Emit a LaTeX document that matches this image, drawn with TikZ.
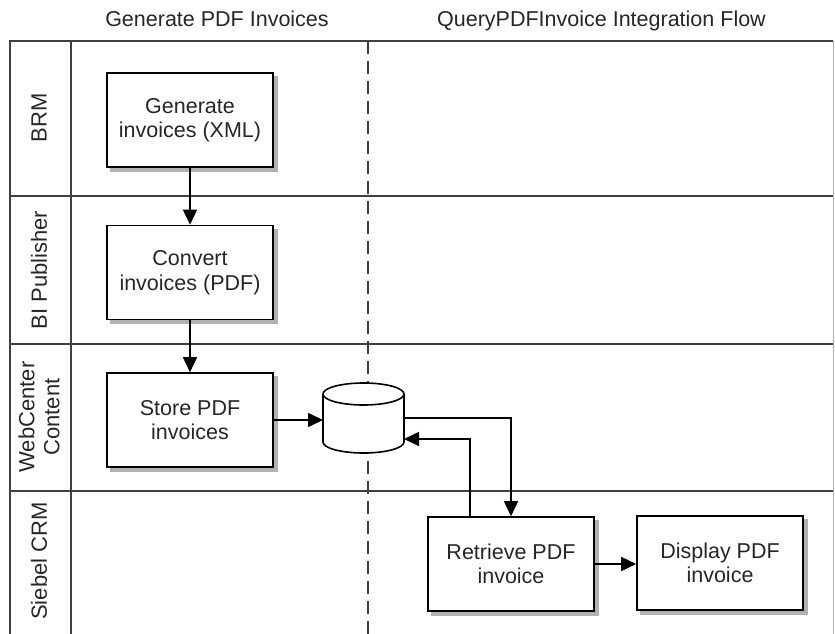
\documentclass[tikz,border=0pt]{standalone}
\usepackage{fontspec}
\setmainfont{Liberation Sans}
\usetikzlibrary{arrows.meta}

\begin{document}
\begin{tikzpicture}[x=1pt,y=-1pt,
	font=\fontsize{21.5}{24.5}\selectfont,
	taskbox/.style={draw=black, line width=1.6pt, fill=white, text=black!85, align=center,
		minimum width=166pt, minimum height=94pt,
		preaction={draw=black!30, fill=black!30, transform canvas={xshift=4pt, yshift=-4pt}}},
	dbspot/.style={minimum width=81pt, minimum height=70pt, inner sep=0pt, outer sep=0pt},
	dbline/.style={line width=1.6pt, fill=white},
	laneline/.style={line width=1.6pt, black!75},
	lanelabel/.style={rotate=90, align=center, text=black!85, font=\fontsize{22}{25}\selectfont},
	headtext/.style={anchor=base, text=black!85},
	flow/.style={line width=1.6pt, -{Triangle[length=15pt,width=14pt]}}
]
	\useasboundingbox (0,0) rectangle (835,634);

	%Headings
	\node[headtext] (hgen) at (217,27) {Generate PDF Invoices};
	\node[headtext] (hquery) at (601.5,27) {QueryPDFInvoice Integration Flow};

	%Swimlanes
	\draw[laneline] (10,634) -- (10,41) -- (833,41);
	\draw[line width=0.6pt, black!30] (833,41) -- (833,634);
	\draw[laneline] (71,41) -- (71,634);
	\foreach \y in {196,344,491}
		\draw[laneline] (10,\y) -- (833,\y);

	\node[lanelabel] (brm) at (39,118) {BRM};
	\node[lanelabel] (bip) at (39,270) {BI Publisher};
	\node[lanelabel] (wcc) at (39,417) {WebCenter\\Content};
	\node[lanelabel] (crm) at (39,561) {Siebel CRM};

	%Split between the two flows
	\draw[line width=1.6pt, black!75, dash pattern=on 13pt off 7pt] (368,41) -- (368,634);

	%Steps
	\node[taskbox] (gen) at (190,120) {Generate\\invoices (XML)};
	\node[taskbox] (conv) at (190,272.5) {Convert\\invoices (PDF)};
	\node[taskbox] (store) at (190,420) {Store PDF\\invoices};
	\node[taskbox] (retr) at (511,564) {Retrieve PDF\\invoice};
	\node[taskbox] (disp) at (720,563) {Display PDF\\invoice};

	%Storage
	\node[dbspot] (db) at (363.5,418) {};
	\draw[dbline] ([yshift=11pt]db.south west) -- ([yshift=-11pt]db.north west)
		arc[start angle=180, end angle=0, x radius=40.5pt, y radius=11pt]
		-- ([yshift=11pt]db.south east)
		arc[start angle=0, end angle=-180, x radius=40.5pt, y radius=11pt] -- cycle;
	\draw[line width=1.6pt] ([yshift=-11pt]db.north west)
		arc[start angle=180, end angle=360, x radius=40.5pt, y radius=11pt];

	%Connectors
	\draw[flow] (gen) -- (conv);
	\draw[flow] (conv) -- (store);
	\draw[flow] (store.east) -- (store.east -| db.west);
	\draw[flow] (db.east) -| (retr.north);
	\draw[flow] ([xshift=-41pt]retr.north) |- ([yshift=-21pt]db.east);
	\draw[flow] (retr.east) -- (retr.east -| disp.west);

\end{tikzpicture}
\end{document}
